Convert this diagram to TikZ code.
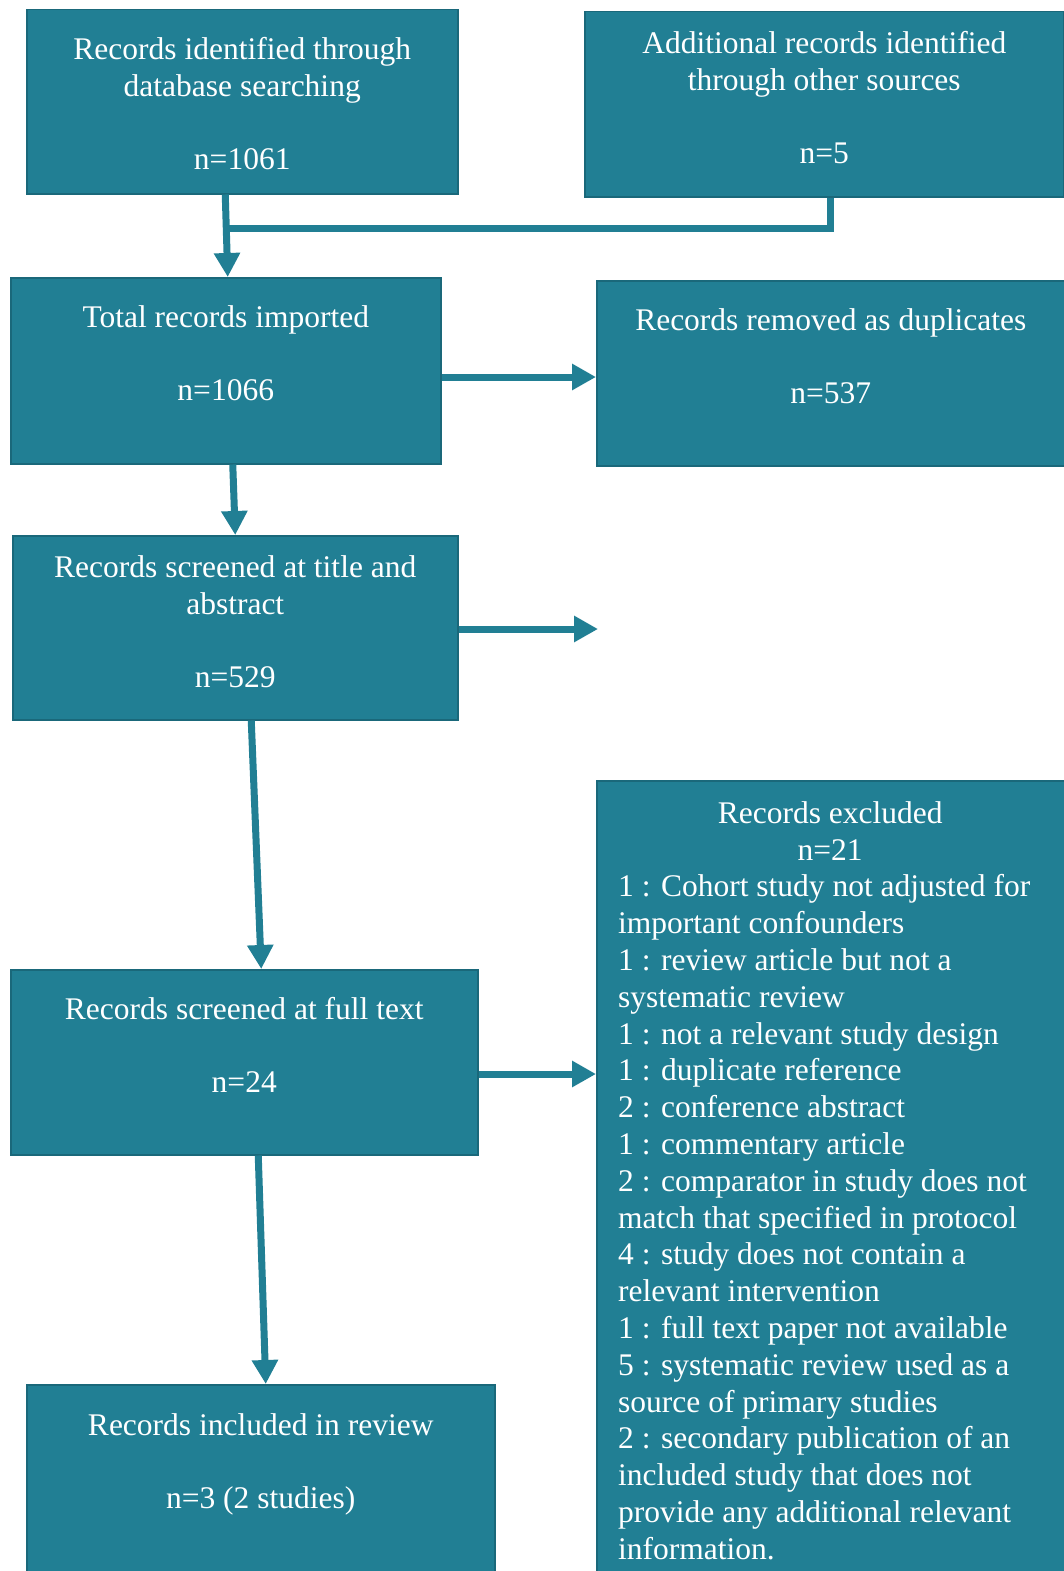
\documentclass[tikz,border=0pt]{standalone}
\usepackage{fontspec}
\setmainfont{Liberation Serif}
\usetikzlibrary{arrows.meta}
\definecolor{teal1}{RGB}{33,127,148}
\definecolor{teal2}{RGB}{26,104,122}
\begin{document}
\begin{tikzpicture}[x=1pt,y=1pt,
  box/.style={draw=teal2,line width=1.5pt,fill=teal1,anchor=north west,inner sep=0pt},
  txt/.style={text=white,font={\fontsize{31.5}{36.8}\selectfont},align=center,inner sep=0pt,anchor=north},
  conn/.style={draw=teal1,line width=7pt},
  arr/.style={conn,-{Triangle[width=25pt,length=24pt]}}]
\useasboundingbox (0,0) rectangle (1064,-1571);
% boxes
\node[box,minimum width=431,minimum height=184] (a) at (26,-9) {};
\node[box,minimum width=479,minimum height=185] (b) at (584,-11) {};
\node[box,minimum width=430,minimum height=186] (c) at (10,-277) {};
\node[box,minimum width=468,minimum height=185] (d) at (596,-280) {};
\node[box,minimum width=445,minimum height=184] (e) at (12,-535) {};
\node[box,minimum width=467,minimum height=185] (f) at (10,-969) {};
\node[box,minimum width=468,minimum height=195] (g) at (26,-1384) {};
\node[box,minimum width=468,minimum height=800] (h) at (596,-780) {};
% texts
\newcommand{\fs}{\rule{0pt}{26pt}}
\node[txt] (at) at ([yshift=-24]a.north) {\fs Records identified through\\database searching\\[36.8pt]n=1061};
\node[txt] (bt) at ([yshift=-16]b.north) {\fs Additional records identified\\through other sources\\[36.8pt]n=5};
\node[txt] (ct) at ([yshift=-24]c.north) {\fs Total records imported\\[36.8pt]n=1066};
\node[txt] (dt) at ([yshift=-24]d.north) {\fs Records removed as duplicates\\[36.8pt]n=537};
\node[txt] (et) at ([yshift=-16]e.north) {\fs Records screened at title and\\abstract\\[36.8pt]n=529};
\node[txt] (ft) at ([yshift=-24]f.north) {\fs Records screened at full text\\[36.8pt]n=24};
\node[txt] (gt) at ([yshift=-25]g.north) {\fs Records included in review\\[36.8pt]n=3 (2 studies)};
\node[txt,align=left,anchor=north west] (ht) at (618,-797) {\fs\makebox[424pt][c]{Records excluded}\\
\makebox[424pt][c]{n=21}\\
1 : Cohort study not adjusted for\\
important confounders\\
1 : review article but not a\\
systematic review\\
1 : not a relevant study design\\
1 : duplicate reference\\
2 : conference abstract\\
1 : commentary article\\
2 : comparator in study does not\\
match that specified in protocol\\
4 : study does not contain a\\
relevant intervention\\
1 : full text paper not available\\
5 : systematic review used as a\\
source of primary studies\\
2 : secondary publication of an\\
included study that does not\\
provide any additional relevant\\
information.};
% connectors
\coordinate (j) at (226,-228);
\coordinate (eout) at (598,-629);
\draw[conn] ([xshift=6.5]b.south) |- (j);
\draw[arr] ([xshift=-17]a.south) -- ([xshift=2]c.north);
\draw[arr] (c.east |- 0,-377) -- (d.west |- 0,-377);
\draw[arr] ([xshift=7]c.south) -- ([xshift=0]e.north);
\draw[arr] (e.east |- eout) -- (eout);
\draw[arr] ([xshift=16]e.south) -- ([xshift=17]f.north);
\draw[arr] (f.east |- 0,-1074) -- (h.west |- 0,-1074);
\draw[arr] ([xshift=14]f.south) -- ([xshift=5]g.north);
\end{tikzpicture}
\end{document}
